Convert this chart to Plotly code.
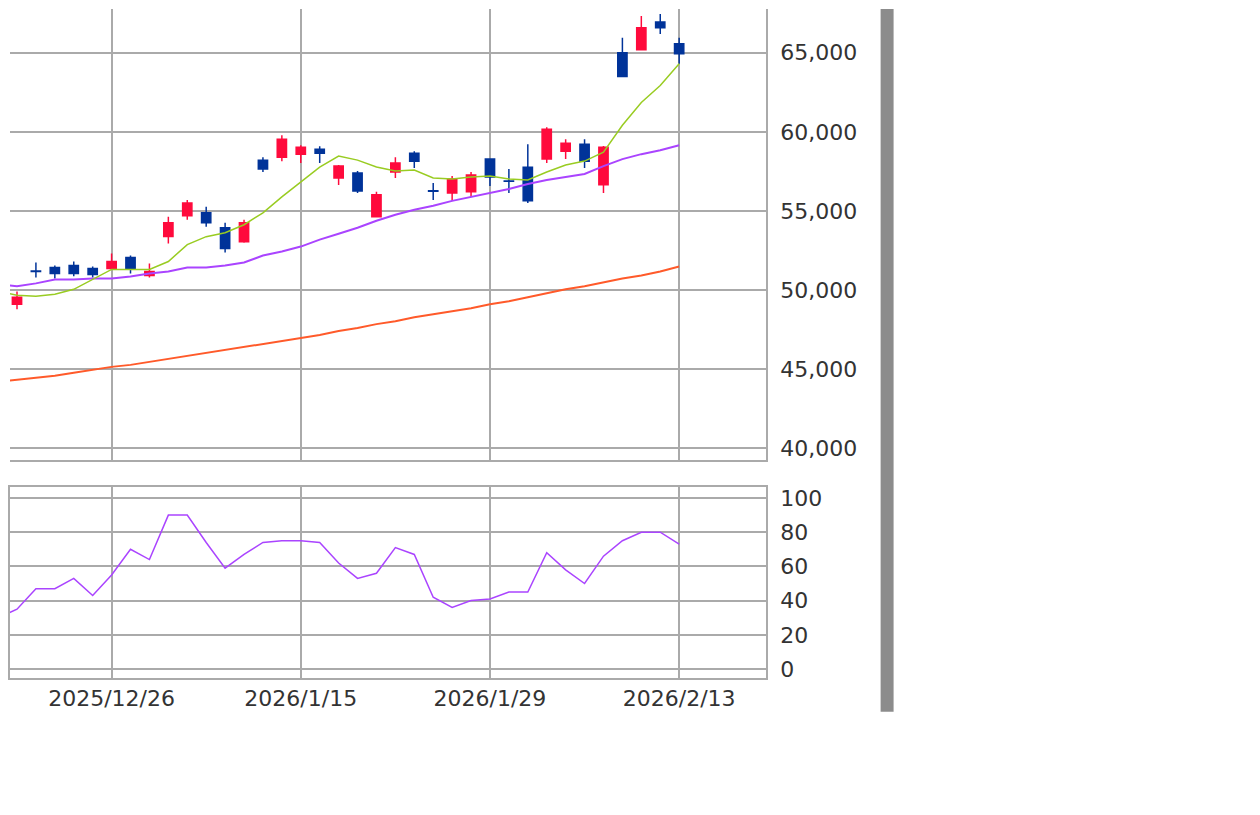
import plotly.graph_objects as go

# 日足 2025/12/18 - 2026/2/13
dates = ["2025/12/18", "2025/12/19", "2025/12/22", "2025/12/23", "2025/12/24", "2025/12/25",
         "2025/12/26", "2025/12/29", "2025/12/30", "2026/1/5", "2026/1/6", "2026/1/7",
         "2026/1/8", "2026/1/9", "2026/1/13", "2026/1/14", "2026/1/15", "2026/1/16",
         "2026/1/19", "2026/1/20", "2026/1/21", "2026/1/22", "2026/1/23", "2026/1/26",
         "2026/1/27", "2026/1/28", "2026/1/29", "2026/1/30", "2026/2/2", "2026/2/3",
         "2026/2/4", "2026/2/5", "2026/2/6", "2026/2/9", "2026/2/10", "2026/2/12", "2026/2/13"]
opens = [47730, 49110, 51200, 51430, 51560, 51370, 51370, 52060, 50930, 53380, 54700, 54890,
         53940, 53060, 58210, 58400, 58590, 58900, 57080, 57400, 54640, 57460, 58650, 56280,
         56140, 56210, 58280, 56900, 57770, 58280, 58780, 59220, 56650, 65000, 65190, 66940, 65560]
highs = [48790, 49920, 51750, 51560, 51810, 51490, 52310, 52180, 51680, 54630, 55700, 55260,
         54260, 54450, 58400, 59790, 59160, 59090, 57900, 57520, 56210, 58400, 58780, 56770,
         57210, 57460, 58300, 57650, 59220, 60290, 59530, 59530, 59100, 65940, 67320, 67450, 65940]
lows = [47540, 48790, 50800, 50740, 50870, 50800, 51300, 51050, 50800, 52940, 54450, 54010,
        52370, 53000, 57460, 58150, 58030, 58030, 56640, 56140, 54600, 57080, 57710, 55700,
        55640, 55890, 56580, 56140, 55510, 58030, 58280, 57710, 56140, 63450, 65150, 66190, 64310]
closes = [48600, 49550, 51170, 51050, 51050, 50990, 51810, 51370, 51180, 54260, 55510, 54260,
          52630, 54260, 57650, 59530, 59030, 58650, 57840, 56270, 56020, 58030, 58150, 56250,
          57020, 57270, 57150, 56880, 55640, 60160, 59280, 58150, 59030, 63490, 66570, 66570, 64940]
ma_short = [49923, 49673, 49610, 49735, 50049, 50677, 51305, 51305, 51305, 51808, 52876, 53378,
            53630, 54132, 54885, 55890, 56833, 57775, 58466, 58214, 57775, 57524, 57587, 57084,
            57021, 57147, 57210, 57021, 56958, 57461, 57901, 58152, 58717, 60413, 61857, 62925, 64307]
ma_mid = [50363, 50238, 50426, 50677, 50677, 50740, 50740, 50866, 51054, 51180, 51431, 51431,
          51557, 51745, 52185, 52436, 52750, 53190, 53566, 53943, 54383, 54760, 55074, 55325,
          55639, 55890, 56142, 56393, 56707, 56958, 57147, 57335, 57838, 58277, 58591, 58842, 59157]
ma_long = [44208, 44333, 44459, 44585, 44773, 44961, 45150, 45276, 45464, 45652, 45841, 46029,
           46218, 46406, 46595, 46783, 46971, 47160, 47411, 47600, 47851, 48039, 48290, 48479,
           48667, 48856, 49107, 49295, 49547, 49798, 50049, 50238, 50489, 50740, 50928, 51180, 51494]
rsi = [30, 35, 47, 47, 53, 43, 55, 70, 64, 90, 90, 74, 59, 67, 74, 75, 75, 74, 62, 53, 56, 71,
       67, 42, 36, 40, 41, 45, 45, 68, 58, 50, 66, 75, 80, 80, 73]
tick_dates = ["2025/12/26", "2026/1/15", "2026/1/29", "2026/2/13"]
price_ticks = [40000, 45000, 50000, 55000, 60000, 65000]
rsi_ticks = [0, 20, 40, 60, 80, 100]

idx = list(range(len(dates)))
tick_idx = [dates.index(d) for d in tick_dates]

fig = go.Figure()
fig.add_trace(go.Scatter(x=idx, y=ma_long, mode="lines", line=dict(color="#ff5a2a", width=2),
                         xaxis="x", yaxis="y"))
fig.add_trace(go.Scatter(x=idx, y=ma_mid, mode="lines", line=dict(color="#aa44ff", width=2),
                         xaxis="x", yaxis="y"))
fig.add_trace(go.Scatter(x=idx, y=ma_short, mode="lines", line=dict(color="#99cc22", width=1.5),
                         xaxis="x", yaxis="y"))
fig.add_trace(go.Candlestick(x=idx, open=opens, high=highs, low=lows, close=closes,
                             increasing=dict(line=dict(color="#ff0a3c", width=1.5), fillcolor="#ff0a3c"),
                             decreasing=dict(line=dict(color="#003399", width=1.5), fillcolor="#003399"),
                             whiskerwidth=0, xaxis="x", yaxis="y"))
fig.add_trace(go.Scatter(x=idx, y=rsi, mode="lines", line=dict(color="#aa44ff", width=1.5),
                         xaxis="x2", yaxis="y2"))

grid = dict(showgrid=True, gridcolor="#aaaaaa", gridwidth=2, showline=True, linecolor="#aaaaaa",
            linewidth=2, zeroline=False)
tick_font = dict(family="DejaVu Sans", size=22, color="#333333")
xr = [0.63, 40.58]
# the page body adds an 8px margin, so domains are measured from there
fig.update_layout(
    width=1260, height=815, margin=dict(l=0, r=0, t=0, b=0),
    paper_bgcolor="white", plot_bgcolor="white", showlegend=False,
    xaxis=dict(domain=[0, 0.6008], range=xr, tickvals=tick_idx, showticklabels=False,
               rangeslider=dict(visible=False), anchor="y", **grid),
    yaxis=dict(domain=[0.4429, 1], range=[39250, 67762], side="right", tickvals=price_ticks,
               tickformat=",d", tickfont=tick_font, ticks="", ticklabelstandoff=8, anchor="x", **grid),
    xaxis2=dict(domain=[0, 0.6008], range=xr, tickvals=tick_idx, ticktext=tick_dates,
                tickfont=tick_font, anchor="y2", mirror=True, **grid),
    yaxis2=dict(domain=[0.1742, 0.4098], range=[-5.2, 106.4], side="right", tickvals=rsi_ticks,
                tickfont=tick_font, ticks="", ticklabelstandoff=8, anchor="x2", mirror=True, **grid),
    shapes=[dict(type="rect", xref="paper", yref="paper", x0=872 / 1260, x1=885 / 1260,
                 y0=1 - 707 / 815, y1=1, fillcolor="#8c8c8c", line=dict(width=0))],
)
fig.write_html("out.html")
